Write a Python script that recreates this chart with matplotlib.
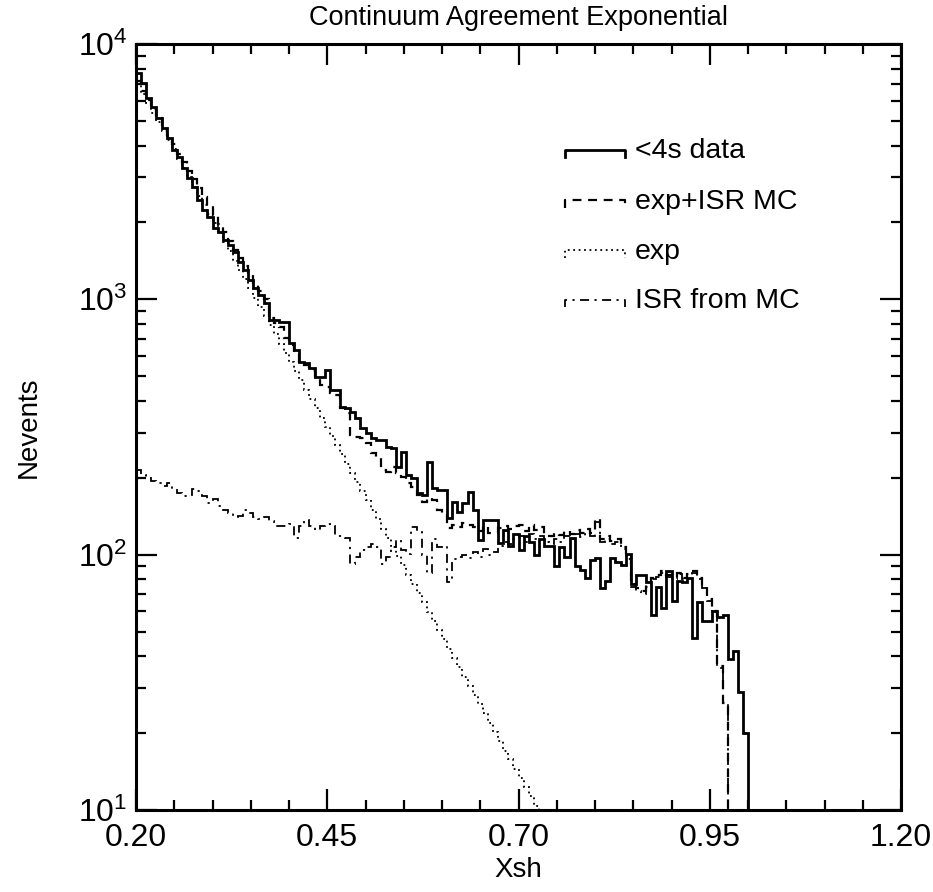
import numpy as np
import matplotlib
matplotlib.use("Agg")
import matplotlib.pyplot as plt

plt.rcParams['font.family'] = ['Liberation Sans', 'DejaVu Sans']
plt.rcParams['mathtext.fontset'] = 'custom'
plt.rcParams['mathtext.rm'] = 'Liberation Sans'

# histogram binning of Xsh (bins of 1/150 starting at 0.20)
x_lo = 0.20
bin_w = 1.0 / 150

# <4s data
data = [7710, 7040, 6150, 5680, 5140, 4690, 4280, 3845, 3610, 3270,
        2990, 2755, 2450, 2240, 2100, 1905, 1838, 1710, 1633, 1535,
        1400, 1303, 1191, 1109, 1041, 968, 830, 830, 814, 814,
        675, 634, 569, 564, 539, 497, 497, 529, 442, 442,
        379, 375, 362, 343, 313, 300, 286, 281, 281, 264,
        262, 220, 252, 205, 200, 175, 171, 231, 183, 179,
        179, 139, 161, 147, 159, 176, 150, 114, 137, 137,
        137, 111, 125, 108, 120, 104, 118, 112, 100, 115,
        108, 108, 90, 107, 98, 116, 90, 87, 81, 95,
        97, 74, 79, 97, 94, 91, 101, 77, 83, 83,
        78, 58, 75, 62, 86, 66, 79, 78, 81, 47,
        65, 55, 55, 60, 57, 58, 39, 42, 29, 20, 0]

# exp + ISR MC
mc_total = [7130, 6570, 6060, 5580, 5145, 4745, 4390, 4045, 3720, 3435,
            3180, 2950, 2725, 2510, 2315, 2145, 1980, 1830, 1685, 1560,
            1450, 1350, 1250, 1155, 1075, 1000, 845, 808, 780, 706,
            662, 622, 569, 554, 529, 497, 462, 454, 430, 422,
            375, 358, 294, 289, 286, 274, 250, 241, 215, 211,
            220, 209, 201, 191, 184, 171, 161, 166, 164, 150,
            146, 127, 131, 128, 133, 131, 128, 124, 129, 122,
            122, 127, 129, 126, 130, 131, 124, 131, 125, 128,
            121, 118, 122, 119, 124, 121, 125, 122, 126, 122,
            138, 115, 118, 113, 115, 107, 98, 77, 74, 72,
            76, 81, 83, 86, 83, 81, 85, 81, 84, 86,
            81, 75, 67, 60, 36.5, 26.3, 0]

# exp
exp_fit = [6918, 6368, 5861, 5383, 4955, 4560, 4198, 3864, 3548, 3266,
           3006, 2767, 2547, 2339, 2153, 1982, 1824, 1679, 1542, 1419,
           1306, 1202, 1107, 1016, 935, 861, 792, 729, 670, 617,
           568, 522, 481, 442, 406, 374, 344, 317, 291, 268,
           247, 227, 209, 192, 177, 163, 150, 138, 126, 116,
           107, 98.6, 90.8, 83.4, 76.7, 70.6, 65.0, 59.8, 55.0, 50.6,
           46.6, 42.9, 39.4, 36.3, 33.3, 30.7, 28.2, 26.0, 23.9, 22.0,
           20.2, 18.6, 17.1, 15.8, 14.5, 13.3, 12.3, 11.3, 10.4, 9.6,
           8.8]

# ISR from MC
isr = [215, 205, 200, 195, 190, 185, 190, 180, 175, 170,
       172, 180, 178, 170, 160, 165, 155, 150, 145, 140,
       142, 150, 145, 140, 138, 140, 135, 130, 129, 130,
       132, 116, 129, 137, 129, 125, 129, 132, 129, 118,
       118, 116, 92, 98, 104, 107, 110, 107, 92, 98,
       107, 114, 104, 101, 128, 123, 100, 85, 115, 107,
       108, 78, 96, 98, 100, 97, 102, 98, 105, 100,
       102, 108, 112, 110, 115, 118, 112, 120, 115, 118,
       112, 110, 115, 112, 118, 115, 120, 117, 122, 118,
       134, 112, 115, 110, 112, 105, 96, 75, 72, 70,
       75, 80, 82, 85, 82, 80, 84, 80, 83, 85,
       80, 74, 66, 59, 36, 26, 0]

labels = ["<4s data", "exp+ISR MC", "exp", "ISR from MC"]
xticks = [0.20, 0.45, 0.70, 0.95, 1.20]


def edges(vals):
    return x_lo + bin_w * np.arange(len(vals) + 1)


fig = plt.figure(figsize=(9.33, 8.92), dpi=100)
ax = fig.add_axes([0.1458, 0.0919, 0.8199, 0.8588])

styles = [dict(color="k", lw=2.0, linestyle="-"),
          dict(color="k", lw=1.6, linestyle=(0, (4, 3))),
          dict(color="k", lw=1.3, linestyle=(0, (1, 2))),
          dict(color="k", lw=1.3, linestyle=(0, (5, 3, 1.2, 3)))]

for vals, st in zip([data, mc_total, exp_fit, isr], styles):
    ax.stairs(vals, edges(vals), baseline=None, **st)

ax.set_yscale("log")
ax.set_xlim(0.20, 1.20)
ax.set_ylim(10, 1e4)
ax.set_xticks(xticks)
ax.set_xticklabels(["%.2f" % t for t in xticks])
ax.set_xticks(np.arange(0.20, 1.2001, 0.05), minor=True)

for s in ax.spines.values():
    s.set_linewidth(2.2)
ax.tick_params(which="both", direction="in", top=True, right=True,
               labelsize=23, width=1.6)
ax.tick_params(axis="x", pad=9)
ax.tick_params(axis="y", pad=6)
ax.tick_params(which="major", length=15)
ax.tick_params(which="minor", length=7.5)

ax.set_title("Continuum Agreement Exponential", fontsize=19.5, pad=14)
ax.set_xlabel("Xsh", fontsize=20, labelpad=3)
ax.set_ylabel("Nevents", fontsize=20, labelpad=26)

# legend drawn IDL style
leg_y = [0.862, 0.796, 0.731, 0.666]
for lab, ly, st in zip(labels, leg_y, styles):
    ax.plot([0.561, 0.561, 0.639, 0.639], [ly - 0.01, ly, ly, ly - 0.01],
            transform=ax.transAxes, **st)
    ax.text(0.652, ly - 0.002, lab, transform=ax.transAxes, fontsize=20.5,
            va="center", ha="left")

fig.savefig("out.png", dpi=100)
